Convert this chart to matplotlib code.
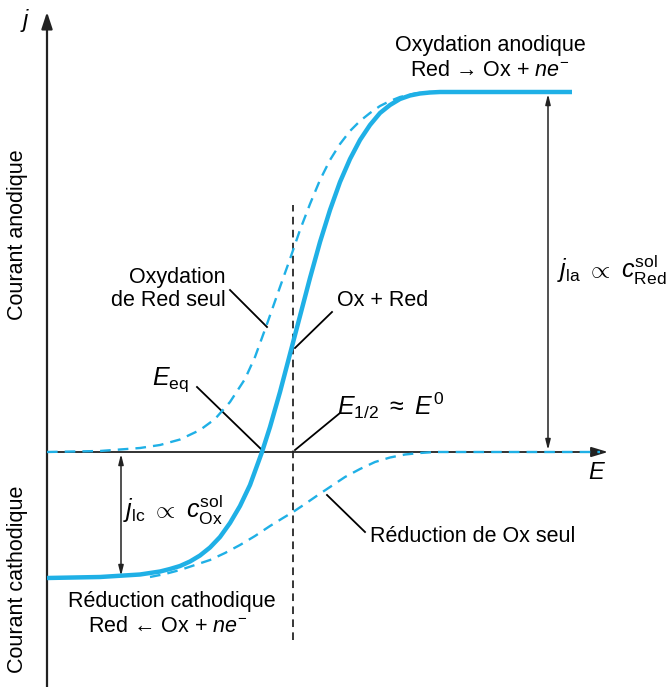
import numpy as np
import matplotlib
matplotlib.use("Agg")
import matplotlib.pyplot as plt

plt.rcParams['font.family'] = ['Liberation Sans', 'DejaVu Sans']
plt.rcParams['mathtext.fontset'] = 'custom'
plt.rcParams['mathtext.rm'] = 'Liberation Sans'
plt.rcParams['mathtext.it'] = 'Liberation Sans:italic'
plt.rcParams['mathtext.sf'] = 'Liberation Sans'

BLUE = '#1fb0e6'

# limiting currents (arbitrary units), anodic and cathodic
j_la = 360
j_lc = -126
E_half = 246       # E1/2 ~ E0
E_eq = 215         # zero-current potential of the Ox + Red mixture

# Ox + Red curve (solid)
E_mix = [0, 53, 93, 103, 113, 123, 133, 143, 153, 163, 173, 183, 193, 203, 215,
         223, 233, 243, 253, 263, 273, 283, 293, 303, 313, 323, 333, 343, 353,
         363, 373, 383, 393, 525]
j_mix = [-126, -125, -122.5, -121, -119.5, -117, -114, -109.5, -103.5, -95.5, -85,
         -71, -54, -33, 0, 25, 60, 98, 136, 174, 210, 242, 270, 293, 312, 327, 339,
         347, 353, 356.5, 358.5, 359.5, 360, 360]

# oxidation of Red alone (dashed)
E_red = [0, 53, 93, 113, 133, 153, 168, 183, 198, 208, 220, 233, 243, 253, 263,
         273, 283, 293, 303, 313, 323, 333, 343, 353, 368, 383]
j_red = [0, 1, 4, 7, 12.5, 22, 33, 50, 73, 95, 128, 165, 193, 222, 248, 272, 292,
         308, 321, 331, 339, 346, 351, 355, 358.5, 360]

# reduction of Ox alone (dashed)
E_ox = [103, 118, 133, 148, 163, 178, 193, 208, 223, 236, 246, 258, 271, 283, 298,
        313, 328, 343, 358, 373, 388, 553]
j_ox = [-125, -122, -118, -113, -108, -101, -93, -84, -74, -66, -60, -52, -43, -35,
        -25, -17, -10, -5.5, -2.5, -1, 0, 0]

fig = plt.figure(figsize=(6.67, 6.87), dpi=100)
ax = fig.add_axes([0, 0, 1, 1])
ax.set_xlim(-47, 620)
ax.set_ylim(-235, 452)
ax.axis('off')

# axes with arrow heads
ax.annotate('', xy=(0, 440), xytext=(0, -240),
            arrowprops=dict(arrowstyle='-|>,head_length=1.0,head_width=0.33',
                            color='#222222', lw=1.6, shrinkA=0, shrinkB=0))
ax.annotate('', xy=(561, 0), xytext=(0, 0),
            arrowprops=dict(arrowstyle='-|>,head_length=1.0,head_width=0.3',
                            color='#222222', lw=1.3, shrinkA=0, shrinkB=0))

# E1/2 vertical marker
ax.plot([E_half, E_half], [j_lc - 62, 247], color='black', lw=1.1,
        dashes=(5, 3.5))

# curves
ax.plot(E_red, j_red, color=BLUE, lw=1.7, dashes=(4.5, 3), zorder=3)
ax.plot(E_ox, j_ox, color=BLUE, lw=1.7, dashes=(4.5, 3), zorder=3)
ax.plot(E_mix, j_mix, color=BLUE, lw=3.2, solid_capstyle='butt',
        solid_joinstyle='round', zorder=4)

# limiting current double arrows
arr = dict(arrowstyle='<|-|>,head_length=0.6,head_width=0.15', color='#222222',
           lw=1.1, shrinkA=0, shrinkB=0)
ax.annotate('', xy=(501, j_la - 2), xytext=(501, 2), arrowprops=arr)
ax.annotate('', xy=(74, j_lc + 2), xytext=(74, -2), arrowprops=arr)

# pointer lines
ptr = dict(color='black', lw=1.3)
ax.plot([183, 220], [162, 125], **ptr)
ax.plot([285, 248], [140, 104], **ptr)
ax.plot([150, 215], [65, 2], **ptr)
ax.plot([293, 248], [39, 2], **ptr)
ax.plot([280, 318], [-43, -80], **ptr)

fs = 15.5
mfs = 18
ax.text(-22, 432, '$j$', fontsize=17, ha='center', va='center')
ax.text(550, -21, '$E$', fontsize=17, ha='center', va='center')

ax.text(443, 407, 'Oxydation anodique', fontsize=fs, ha='center', va='center')
ax.text(443, 381, 'Red \u2192 Ox + $ne^{-}$', fontsize=fs, ha='center', va='center')

ax.text(125, -149, 'Réduction cathodique', fontsize=fs, ha='center', va='center')
ax.text(121, -175, 'Red \u2190 Ox + $ne^{-}$', fontsize=fs, ha='center', va='center')

ax.text(-29, 217, 'Courant anodique', fontsize=fs, rotation=90,
        ha='center', va='center')
ax.text(-29, -127, 'Courant cathodique', fontsize=fs, rotation=90,
        ha='center', va='center')

ax.text(179, 163, 'Oxydation\nde Red seul', fontsize=fs, ha='right', va='center',
        linespacing=1.1)
ax.text(290, 152, 'Ox + Red', fontsize=fs, ha='left', va='center')
ax.text(105, 72, '$E_{\\mathrm{eq}}$', fontsize=mfs, ha='left', va='center')
ax.text(290, 46, '$E_{1/2}\\ \\approx\\ E^{0}$', fontsize=mfs, ha='left', va='center')
ax.text(510, 182, '$j_{\\mathrm{la}}\\ \\propto\\ c_{\\mathrm{Red}}^{\\mathrm{sol}}$',
        fontsize=mfs, ha='left', va='center')
ax.text(76, -58, '$j_{\\mathrm{lc}}\\ \\propto\\ c_{\\mathrm{Ox}}^{\\mathrm{sol}}$',
        fontsize=mfs, ha='left', va='center')
ax.text(323, -85, 'Réduction de Ox seul', fontsize=fs, ha='left', va='center')

fig.savefig('out.png', dpi=100)
